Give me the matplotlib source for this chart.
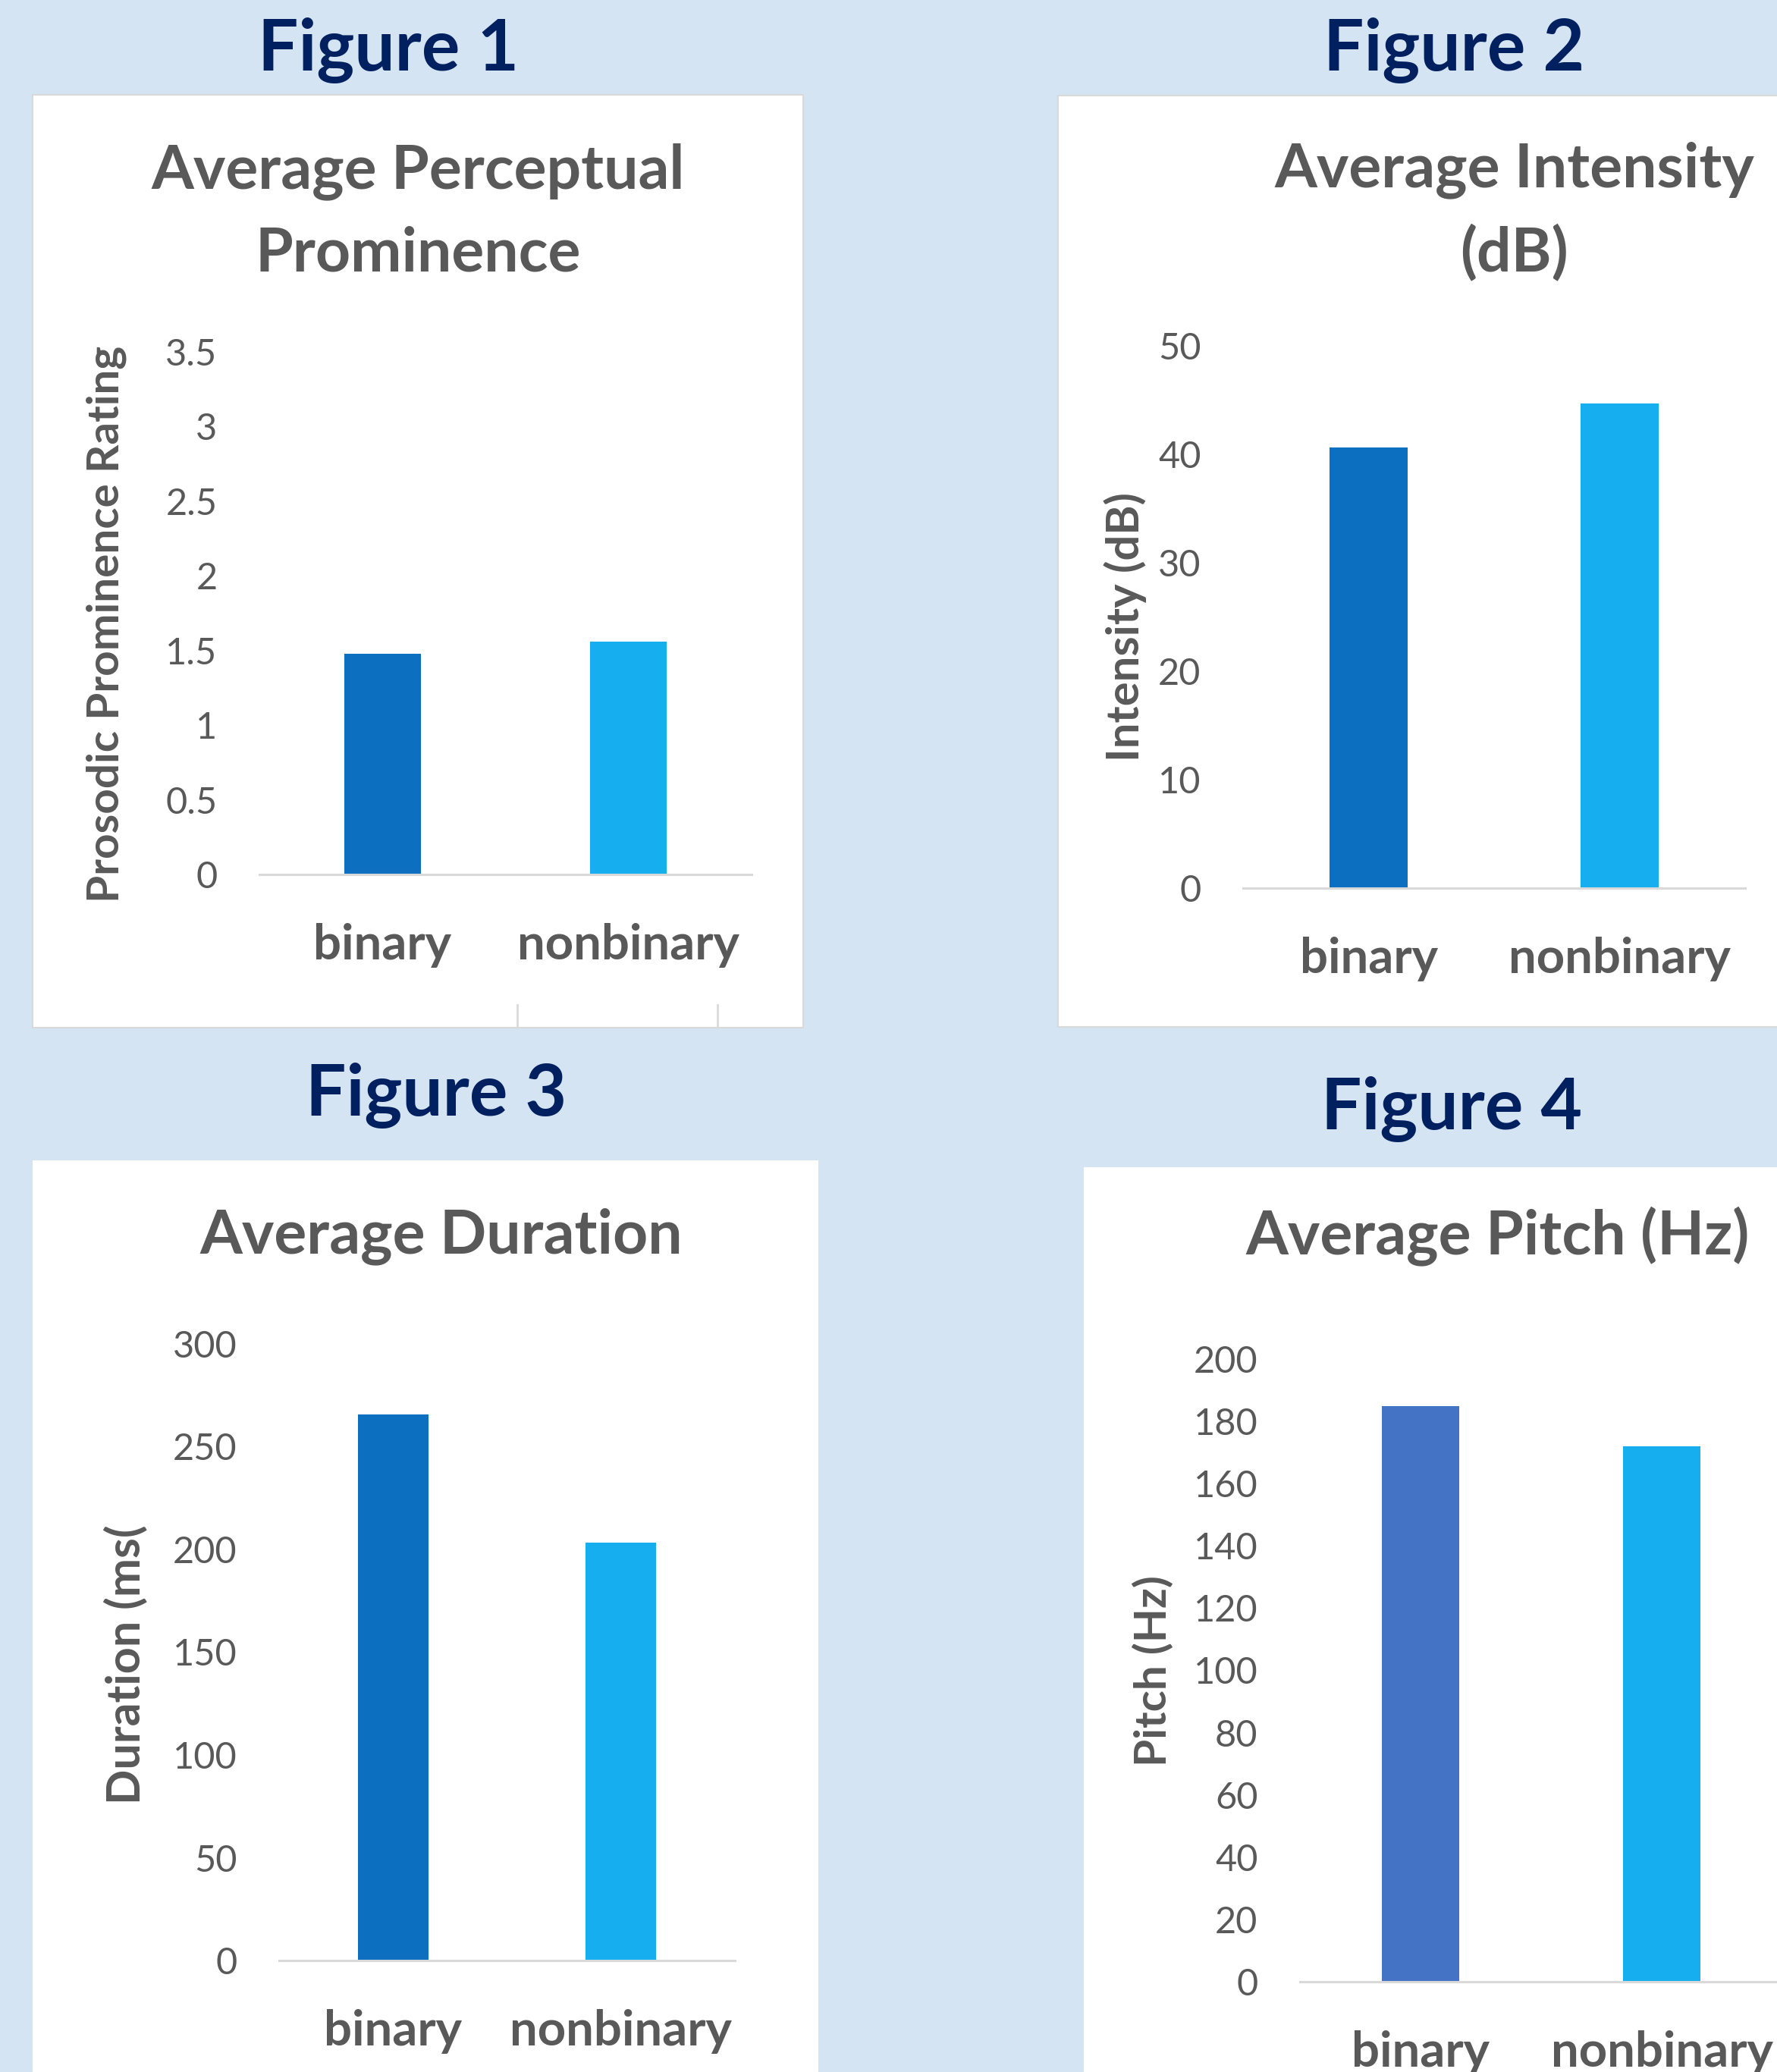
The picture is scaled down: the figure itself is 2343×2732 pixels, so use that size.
import numpy as np
import matplotlib
matplotlib.use("Agg")
import matplotlib.pyplot as plt
from matplotlib.patches import Rectangle
from matplotlib.lines import Line2D

# image size in pixels (dpi 100)
W, H = 2343, 2732

groups = ['binary', 'nonbinary']
prominence = [1.48, 1.56]
intensity = [40.6, 44.7]
duration = [265.5, 203.2]
pitch = [185.0, 172.0]

bg = '#D4E4F3'
navy = '#002060'
grey = '#595959'
axis_grey = '#D9D9D9'
dark_blue = '#0D6FBF'
light_blue = '#16AEEE'
mid_blue = '#4472C4'

plt.rcParams['font.family'] = ['Lato', 'DejaVu Sans']

fig = plt.figure(figsize=(W / 100, H / 100), dpi=100, facecolor=bg)


def fx(x):
    return x / W


def fy(y):
    return 1 - y / H


def panel(x0, y0, x1, y1, edge='none'):
    fig.patches.append(Rectangle((fx(x0), fy(y1)), fx(x1 - x0), (y1 - y0) / H,
                                 transform=fig.transFigure, facecolor='white',
                                 edgecolor=edge, linewidth=1.5, zorder=-10))


def chart(left, right, top, zero, values, colors, ymax, step, bar_w, ylabel,
          ylab_xy, ylab_size, title, title_xy, fig_label, fig_xy):
    ax = fig.add_axes([fx(left), fy(zero), (right - left) / W, (zero - top) / H])
    ax.set_facecolor('none')
    ax.bar(np.arange(len(groups)), values, width=bar_w, color=colors, zorder=2)
    ax.set_xlim(-0.5, 1.5)
    ax.set_ylim(0, ymax)
    ticks = np.arange(0, ymax + step / 2, step)
    ax.set_yticks(ticks)
    ax.set_yticklabels([f'{t:g}' for t in ticks])
    ax.set_xticks(np.arange(len(groups)))
    ax.set_xticklabels(groups, fontweight='bold')
    ax.tick_params(axis='y', length=0, pad=40, labelsize=35, labelcolor=grey)
    ax.tick_params(axis='x', length=0, pad=46, labelsize=47, labelcolor=grey)
    for s in ['top', 'right', 'left']:
        ax.spines[s].set_visible(False)
    ax.spines['bottom'].set_color(axis_grey)
    ax.spines['bottom'].set_linewidth(2.2)
    ax.spines['bottom'].set_zorder(3)

    fig.text(fx(ylab_xy[0]), fy(ylab_xy[1]), ylabel, rotation=90, ha='center',
             va='center', fontsize=ylab_size, fontweight='bold', color=grey)
    fig.text(fx(title_xy[0]), fy(title_xy[1]), title, ha='center', va='center',
             fontsize=58, fontweight='bold', color=grey, linespacing=1.55)
    fig.text(fx(fig_xy[0]), fy(fig_xy[1]), fig_label, ha='center', va='center',
             fontsize=68, fontweight='bold', color=navy)
    return ax


# white chart areas
panel(43, 125, 1059, 1355, edge=axis_grey)
panel(1395, 126, 2400, 1354, edge=axis_grey)
panel(43, 1530, 1079, 2800)
panel(1429, 1539, 2400, 2800)

chart(342, 991, 464, 1153, prominence, [dark_blue, light_blue], 3.5, 0.5, 0.31,
      'Prosodic Prominence Rating', (140, 823), 42,
      'Average Perceptual\nProminence', (551, 280), 'Figure 1', (512, 66))

chart(1639, 2301, 456, 1171, intensity, [dark_blue, light_blue], 50, 10, 0.31,
      'Intensity (dB)', (1484, 827), 43,
      'Average Intensity\n(dB)', (1997, 279), 'Figure 2', (1917, 66))

chart(368, 969, 1772, 2585, duration, [dark_blue, light_blue], 300, 50, 0.31,
      'Duration (ms(', (165, 2195), 44,
      'Average Duration', (582, 1630), 'Figure 3', (575, 1445))

chart(1714, 2350, 1792, 2613, pitch, [mid_blue, light_blue], 200, 20, 0.32,
      'Pitch (Hz)', (1521, 2203), 42,
      'Average Pitch (Hz)', (1975, 1630), 'Figure 4', (1914, 1462))

# leftover tick marks at the foot of the first chart
for x in [682, 946]:
    fig.add_artist(Line2D([fx(x), fx(x)], [fy(1325), fy(1355)],
                          transform=fig.transFigure, color=axis_grey, linewidth=2))

fig.savefig('out.png', dpi=100, facecolor=bg)
